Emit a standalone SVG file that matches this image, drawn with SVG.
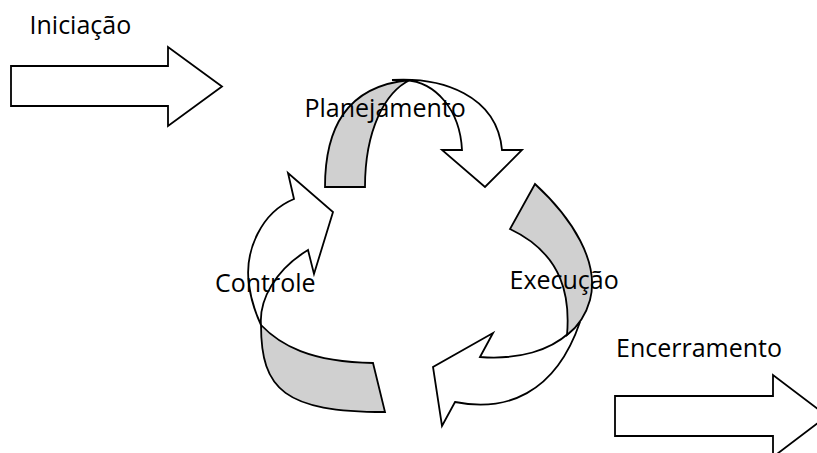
<svg xmlns="http://www.w3.org/2000/svg" width="817" height="453" viewBox="0 0 817 453">
  <style>
    .shape { stroke: #000; stroke-width: 1.8; stroke-linejoin: miter; }
    .front { fill: #fff; }
    .back { fill: #d0d0d0; }
    .label { font-family: "Open Sans", "Liberation Sans", sans-serif; font-size: 25px; fill: #000; }
  </style>
  <rect width="817" height="453" fill="#fff"/>

  <!-- start phase: block arrow -->
  <g id="iniciacao">
    <path class="shape front" d="M 11,66 L 168,66 L 168,47 L 222,86.5 L 168,126 L 168,106 L 11,106 Z"/>
    <text class="label" x="29.5" y="34">Iniciação</text>
  </g>

  <!-- cycle: planning ribbon arrow (top) -->
  <g id="planejamento">
    <path class="shape front" d="M 392,80 C 442,77 497,95 502,150 L 522,150 L 485,187 L 442,150 L 462,150 C 460,110 436,82 405,80 Z"/>
    <path class="shape back" d="M 325,187 C 325,130 345,86 410,80 C 385,92 365,130 365,187 Z"/>
    <text class="label" x="304.5" y="117">Planejamento</text>
  </g>

  <!-- cycle: execution ribbon arrow (right) -->
  <g id="execucao">
    <path class="shape front" d="M 569,333 C 550,350 520,360 480,357 L 493,333 L 433,367 L 442,426 L 455,402 C 505,412 555,395 580,322 Z"/>
    <path class="shape back" d="M 535,184 C 572,218 600,262 590,300 Q 584,322 567,335 C 570,300 565,255 510,229 Z"/>
    <text class="label" x="509.5" y="288.5">Execução</text>
  </g>

  <!-- cycle: control ribbon arrow (left) -->
  <g id="controle">
    <path class="shape front" d="M 261,325 C 259,300 275,270 308,250 L 314,274 L 333,212 L 288,173 L 294,199 C 262,212 244,250 249,285 C 251,300 255,312 261,325 Z"/>
    <path class="shape back" d="M 261,325 C 261,390 285,412 385,412 L 373,363 C 310,362 280,345 261,325 Z"/>
    <text class="label" x="215" y="292">Controle</text>
  </g>

  <!-- closing phase: block arrow -->
  <g id="encerramento">
    <path class="shape front" d="M 615,396 L 773,396 L 773,375 L 827,416 L 773,457 L 773,436 L 615,436 Z"/>
    <text class="label" x="616" y="357">Encerramento</text>
  </g>

  <!-- the phases are not joined by separate connector lines -->
  <g id="connectors"/>
</svg>
